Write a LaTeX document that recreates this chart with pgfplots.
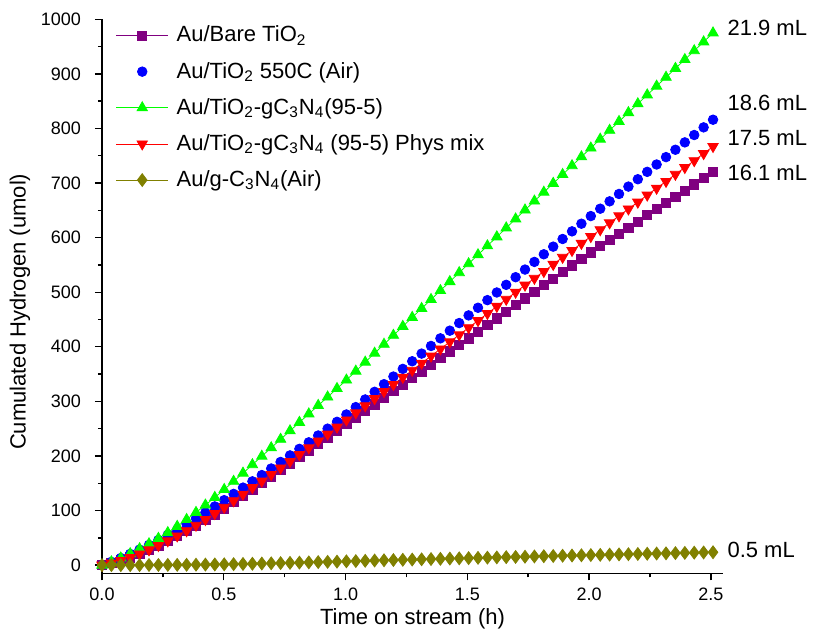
\documentclass[border=0pt]{standalone}
\usepackage{pgfplots}
\pgfplotsset{compat=1.18}
\usepackage{pgfplotstable}
\usepackage{fontspec}
\setmainfont{Liberation Sans}
\definecolor{cpurple}{RGB}{128,0,128}
\definecolor{cblue}{RGB}{0,0,255}
\definecolor{cgreen}{RGB}{0,255,0}
\definecolor{cred}{RGB}{255,0,0}
\definecolor{colive}{RGB}{128,128,0}
\pgfplotstableread{
t P B G R O
0.0000 0 0 0 0 0
0.0386 4 6 6 4 0
0.0772 8.5 13 13 8.5 0
0.1158 14 20.5 21 14 0
0.1544 20.5 28.5 30 20.5 0
0.1930 28 37 39 28 0.2
0.2316 36 46 49 36 0.3
0.2702 44 55.5 59.5 44.5 0.4
0.3088 53 65 71 53.5 0.5
0.3474 62 75 83.5 63 0.6
0.3860 72 85.5 96.5 73 0.8
0.4246 82.5 96.5 110 83.5 1.0
0.4632 93 107.5 124 94.5 1.2
0.5018 104 119 138.5 106 1.5
0.5404 115.5 130.5 153.5 118 1.8
0.5790 127 142 168.5 130 2.1
0.6176 138.5 153.5 184 142 2.5
0.6562 150 165 199.5 154 2.9
0.6948 162 177 215 166 3.3
0.7334 174 189 230.5 178 3.7
0.7720 186 201 246 190 4.1
0.8106 198 213 261.5 202.5 4.6
0.8492 210 225 277 215 5.0
0.8878 222 237.5 292.5 227.5 5.5
0.9264 234 250 308 240 6.0
0.9650 246 262.5 323.5 253 6.4
1.0036 258 276 339 266 6.9
1.0422 270 289.5 355.4 279 7.4
1.0808 282.5 303.5 371.8 292 7.9
1.1194 294.5 317.5 388.2 305 8.4
1.1580 306.5 331.5 404.6 318 8.9
1.1966 318.5 345.5 421 331 9.3
1.2352 330.5 359.5 437.4 344 9.8
1.2738 343 373.5 453.8 357 10.2
1.3124 355 387.5 470.2 370 10.6
1.3510 367 401.5 486.6 383 11.1
1.3896 379 415.5 503 396 11.5
1.4282 391.5 429.5 519.4 409 12.0
1.4668 403.5 443.5 535.8 422 12.4
1.5054 415.5 457.5 552.2 435 12.8
1.5440 427.5 471.5 568.6 448 13.3
1.5826 440 485.5 585 461 13.7
1.6212 452 499.5 601.4 474 14.1
1.6598 464 513.5 617.8 487 14.6
1.6984 476.5 527.5 634.2 500 15.0
1.7370 488.5 541.5 650.6 513 15.4
1.7756 501 555.5 667 525.5 15.9
1.8142 513 569.5 683.2 538 16.3
1.8528 525 583.5 699.4 551 16.7
1.8914 537 597.5 715.6 564 17.2
1.9300 549 611.5 731.8 576.5 17.6
1.9686 561 625.5 748 589.5 18.0
2.0072 573 639.5 764.2 602 18.4
2.0458 584.5 653 780.4 614.5 18.8
2.0844 595.5 666.5 796.6 627 19.2
2.1230 607 680 812.8 640 19.6
2.1616 618 693.5 829 652.5 20.0
2.2002 629.5 707 845.2 665 20.4
2.2388 641 720.5 861.4 678 20.8
2.2774 652 734 877.6 690.5 21.2
2.3160 663.5 747.5 893.8 703 21.6
2.3546 675 761 910 716 22.0
2.3932 686 774.5 926.2 728.5 22.4
2.4318 697.5 788 942.4 741 22.8
2.4704 709 802 958.6 754 23.2
2.5090 720 816 975 767 23.6
}\datatable
\begin{document}
\begin{tikzpicture}
\begin{axis}[
  at={(0,0)}, anchor=south west,
  width=310.5pt, height=277pt, scale only axis,
  xmin=0, xmax=2.55, ymin=-15, ymax=1000,
  axis x line*=bottom, axis y line*=left,
  x axis line style={-}, y axis line style={-},
  axis line style={line width=0.8pt, -},
  clip=false,
  xtick={0,0.5,1,1.5,2,2.5},
  ytick={0,100,200,300,400,500,600,700,800,900,1000},
  minor x tick num=1, minor y tick num=1,
  tick align=outside,
  major tick length=3.5pt, minor tick length=2pt,
  every tick/.style={black, line width=0.7pt},
  /pgf/number format/assume math mode=true,
  /pgf/number format/1000 sep={},
  ticklabel style={font=\fontsize{9}{10}\selectfont},
  xticklabel style={/pgf/number format/.cd, fixed, fixed zerofill, precision=1, /tikz/.cd, yshift=-0.5pt},
  yticklabel style={/pgf/number format/.cd, fixed, 1000 sep={}, /tikz/.cd, xshift=-3.5pt},
  xlabel={Time on stream (h)},
  ylabel={Cumulated Hydrogen (umol)},
  label style={font=\fontsize{11}{13}\selectfont},
  xlabel style={at={(axis description cs:0.5,-0.0915)}, anchor=base},
  ylabel style={at={(axis description cs:-0.132,0.472)}, anchor=center},
  legend cell align=left,
  legend style={at={(axis description cs:0.012,1.003)}, anchor=north west, draw=none, fill=none,
    font=\fontsize{11}{13}\selectfont, row sep=4.6pt, column sep=2pt},
  legend image code/.code={\draw[mark repeat=2,mark phase=2,#1] plot coordinates {(0pt,0pt) (13pt,0pt) (26pt,0pt)};},
]
\addplot[color=cpurple, line width=0.4pt, mark=square*, mark size=2.3pt] table[x=t, y=P] {\datatable};
\addlegendentry{Au/Bare TiO\textsubscript{2}}
\addplot[color=cblue, only marks, mark=*, mark size=2.4pt] table[x=t, y=B] {\datatable};
\addlegendentry{Au/TiO\textsubscript{2} 550C (Air)}
\addplot[color=cgreen, line width=0.4pt, mark=triangle*, mark size=3pt] table[x=t, y=G] {\datatable};
\addlegendentry{Au/TiO\textsubscript{2}-gC\textsubscript{3}N\textsubscript{4}(95-5)}
\addplot[color=cred, line width=0.4pt, mark=triangle*, mark size=3pt, mark options={rotate=180}] table[x=t, y=R] {\datatable};
\addlegendentry{Au/TiO\textsubscript{2}-gC\textsubscript{3}N\textsubscript{4} (95-5) Phys mix}
\addplot[color=colive, line width=0.4pt, mark=diamond*, mark size=3.2pt] table[x=t, y=O] {\datatable};
\addlegendentry{Au/g-C\textsubscript{3}N\textsubscript{4}(Air)}
\node[anchor=west, inner sep=0pt, font=\fontsize{11}{13}\selectfont] at (axis cs:2.567,985) {21.9 mL};
\node[anchor=west, inner sep=0pt, font=\fontsize{11}{13}\selectfont] at (axis cs:2.567,846) {18.6 mL};
\node[anchor=west, inner sep=0pt, font=\fontsize{11}{13}\selectfont] at (axis cs:2.567,782) {17.5 mL};
\node[anchor=west, inner sep=0pt, font=\fontsize{11}{13}\selectfont] at (axis cs:2.567,718) {16.1 mL};
\node[anchor=west, inner sep=0pt, font=\fontsize{11}{13}\selectfont] at (axis cs:2.567,27.5) {0.5 mL};
\end{axis}
\pgfresetboundingbox
\useasboundingbox (-51pt,-29.85pt) rectangle (355.5pt,286.65pt);
\end{tikzpicture}
\end{document}
